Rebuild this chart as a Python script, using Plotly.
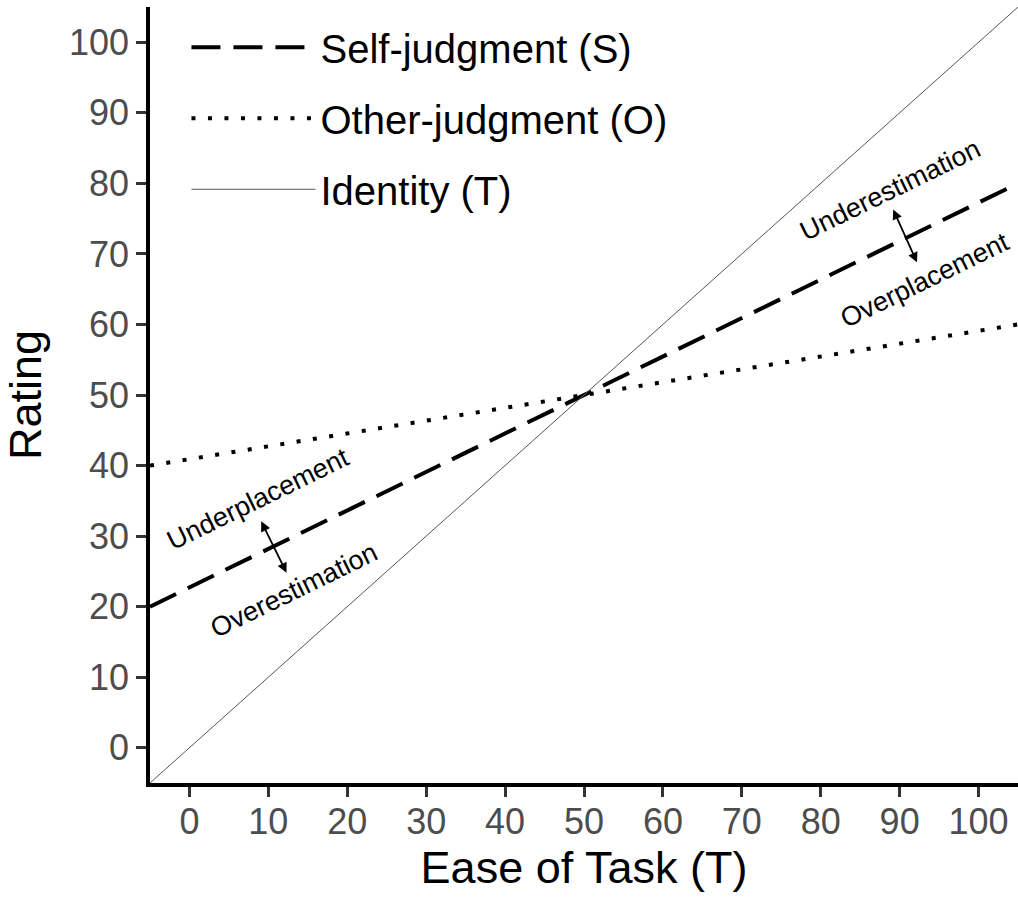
import plotly.graph_objects as go

# ---- data ----
x_ends = [-5, 105]
self_judgment = [20, 80]
other_judgment = [40, 60]
identity = [-5, 105]

x_ticks = [0, 10, 20, 30, 40, 50, 60, 70, 80, 90, 100]
y_ticks = [0, 10, 20, 30, 40, 50, 60, 70, 80, 90, 100]

# region labels: (text, x, y)
region_labels = [
    ("Underestimation", 88.8, 79.0),
    ("Overplacement", 93.2, 66.3),
    ("Underplacement", 8.7, 35.2),
    ("Overestimation", 13.3, 22.4),
]
# double arrows: (x_top, y_top, x_bottom, y_bottom)
arrows = [
    (89.1, 76.5, 92.2, 68.8),
    (9.0, 32.3, 12.3, 24.8),
]

FONT = "Liberation Sans, Arial, Helvetica, sans-serif"

fig = go.Figure()
fig.add_trace(go.Scatter(x=x_ends, y=self_judgment, mode="lines", name="Self-judgment (S)",
                         legendgroup="s",
                         line=dict(color="black", width=4, dash="29px,13px")))
fig.add_trace(go.Scatter(x=x_ends, y=other_judgment, mode="lines", name="Other-judgment (O)",
                         legendgroup="o",
                         line=dict(color="black", width=4, dash="4px,12.5px")))
fig.add_trace(go.Scatter(x=x_ends, y=identity, mode="lines", name="Identity (T)",
                         legendgroup="t",
                         line=dict(color="#555555", width=1)))

for text, x, y in region_labels:
    fig.add_annotation(x=x, y=y, text=text, showarrow=False, textangle=-26,
                       font=dict(family=FONT, size=27, color="black"))

for x0, y0, x1, y1 in arrows:
    fig.add_annotation(x=x1, y=y1, ax=x0, ay=y0, xref="x", yref="y", axref="x", ayref="y",
                       text="", showarrow=True, arrowhead=2, arrowsize=1.1, arrowwidth=1.8,
                       arrowside="end+start", arrowcolor="black")

fig.update_layout(
    width=1018, height=899,
    margin=dict(l=150, r=0, t=7, b=116, autoexpand=False),
    paper_bgcolor="white", plot_bgcolor="white",
    font=dict(family=FONT, color="black"),
    showlegend=True,
    legend=dict(x=0.042, y=0.99, xanchor="left", yanchor="top",
                font=dict(size=40, color="black", family=FONT),
                bgcolor="rgba(0,0,0,0)", itemwidth=124,
                traceorder="grouped", tracegroupgap=16),
    xaxis=dict(range=[-5, 105], tickvals=x_ticks, showgrid=False, zeroline=False,
               showline=True, linecolor="black", linewidth=3.5, automargin=True,
               ticks="outside", ticklen=10, tickwidth=3, tickcolor="#333333",
               ticklabelstandoff=-6,
               tickfont=dict(size=36, color="#4D4D4D", family=FONT),
               title=dict(text="Ease of Task (T)", font=dict(size=45, color="black", family=FONT),
                          standoff=0)),
    yaxis=dict(range=[-5, 105], tickvals=y_ticks, showgrid=False, zeroline=False,
               showline=True, linecolor="black", linewidth=3.5, automargin=False,
               ticks="outside", ticklen=10, tickwidth=3, tickcolor="#333333",
               tickfont=dict(size=36, color="#4D4D4D", family=FONT),
               title=dict(text="Rating", font=dict(size=45, color="black", family=FONT),
                          standoff=15)),
)

fig.write_html("out.html", config={"displayModeBar": False},
               post_script="document.body.style.margin='0';document.body.style.overflow='hidden';")
